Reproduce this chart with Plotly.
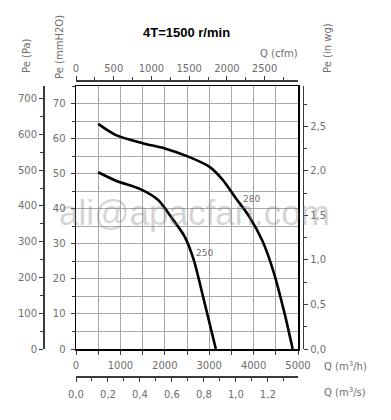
import plotly.graph_objects as go

W, H = 391, 420

# ---- data ----
q_280 = [500, 900, 1500, 2000, 2500, 3000, 3300, 3600, 3900, 4200, 4450, 4700, 4880]
p_280 = [64.2, 61.0, 58.7, 57.2, 55.0, 52.0, 48.3, 43.0, 37.8, 30.8, 22.0, 10.0, 0.0]
q_250 = [500, 900, 1450, 1850, 2150, 2450, 2650, 2870, 3150]
p_250 = [50.4, 48.0, 45.6, 42.5, 37.5, 32.0, 25.5, 14.5, 0.0]
curve_names = ["280", "250"]

q_max_m3h = 5000
p_max_mm = 75
CFM_PER_M3H = 1 / 1.699
PA_PER_MM = 9.80665
INWG_PER_MM = 1 / 25.4
M3S_PER_M3H = 1 / 3600


def px(x):
    return x / W


def py(y):
    return 1 - y / H


GRAY = "#6e6e6e"
FONT = dict(family="DejaVu Sans", size=10, color=GRAY)

fig = go.Figure()
fig.add_trace(go.Scatter(x=q_280, y=p_280, mode="lines", line=dict(color="black", width=2.6, shape="spline", smoothing=0.8),
                         hoverinfo="skip", name=curve_names[0]))
fig.add_trace(go.Scatter(x=q_250, y=p_250, mode="lines", line=dict(color="black", width=2.6, shape="spline", smoothing=0.8),
                         hoverinfo="skip", name=curve_names[1]))

# invisible helper traces so secondary axes are drawn
inv = dict(mode="markers", marker=dict(opacity=0), hoverinfo="skip", showlegend=False)
fig.add_trace(go.Scatter(x=[0], y=[0], xaxis="x2", yaxis="y", **inv))
fig.add_trace(go.Scatter(x=[0], y=[0], xaxis="x3", yaxis="y", **inv))
fig.add_trace(go.Scatter(x=[0], y=[0], xaxis="x", yaxis="y2", **inv))
fig.add_trace(go.Scatter(x=[0], y=[0], xaxis="x", yaxis="y3", **inv))

dom_x = [px(76), px(298)]
dom_y = [py(349), py(86)]
GRID = "#a8a8a8"
AXC = "#3a3a3a"

common = dict(zeroline=False, fixedrange=True, automargin=False, tickfont=FONT)

fig.update_layout(
    width=W, height=H,
    margin=dict(l=0, r=0, t=0, b=0, autoexpand=False),
    paper_bgcolor="white", plot_bgcolor="white",
    showlegend=False,
    separators=",.",
    font=FONT,
    xaxis=dict(domain=dom_x, range=[0, q_max_m3h], dtick=1000, tick0=0,
               showgrid=True, gridcolor=GRID, gridwidth=1,
               showline=True, linecolor="black", linewidth=1.5, mirror=True,
               ticks="outside", ticklen=4, tickcolor=AXC, tickwidth=1, ticklabelstandoff=2,
               minor=dict(dtick=500, showgrid=True, gridcolor=GRID, gridwidth=1, ticks="outside", ticklen=4, tickcolor=AXC),
               **common),
    yaxis=dict(domain=dom_y, range=[0, p_max_mm], dtick=10, tick0=0,
               showgrid=True, gridcolor=GRID, gridwidth=1,
               showline=True, linecolor="black", linewidth=1.5, mirror=True,
               ticks="outside", ticklen=4, tickcolor=AXC, tickwidth=1, ticklabelstandoff=3,
               minor=dict(dtick=5, showgrid=True, gridcolor=GRID, gridwidth=1, ticks="outside", ticklen=3, tickcolor=AXC),
               **common),
    xaxis2=dict(overlaying="x", side="top", anchor="free", position=py(80),
                range=[0, q_max_m3h * CFM_PER_M3H], dtick=500, tick0=0,
                showgrid=False, showline=True, linecolor=AXC, linewidth=1.5,
                ticks="outside", ticklen=4, tickcolor=AXC,
                minor=dict(dtick=250, ticks="outside", ticklen=3, tickcolor=AXC, showgrid=False),
                **common),
    xaxis3=dict(overlaying="x", side="bottom", anchor="free", position=py(376),
                range=[0, q_max_m3h * M3S_PER_M3H], dtick=0.2, tick0=0, tickformat=".1f",
                showgrid=False, showline=True, linecolor=AXC, linewidth=1.5,
                ticks="outside", ticklen=4, tickcolor=AXC, ticklabelstandoff=4,
                minor=dict(dtick=0.1, ticks="outside", ticklen=3, tickcolor=AXC, showgrid=False),
                **common),
    yaxis2=dict(overlaying="y", side="left", anchor="free", position=px(43),
                range=[0, p_max_mm * PA_PER_MM], dtick=100, tick0=0,
                showgrid=False, showline=True, linecolor=AXC, linewidth=1.5,
                ticks="outside", ticklen=4, tickcolor=AXC,
                minor=dict(dtick=50, ticks="outside", ticklen=3, tickcolor=AXC, showgrid=False),
                **common),
    yaxis3=dict(overlaying="y", side="right", anchor="free", position=px(302.7),
                range=[0, p_max_mm * INWG_PER_MM], dtick=0.5, tick0=0, tickformat=".1f",
                showgrid=False, showline=True, linecolor=AXC, linewidth=1.5,
                ticks="outside", ticklen=4, tickcolor=AXC,
                minor=dict(dtick=0.25, ticks="outside", ticklen=3, tickcolor=AXC, showgrid=False),
                **common),
)

ann = []


def add_text(text, x, y, font, angle=0, xanchor="center"):
    ann.append(dict(text=text, x=px(x), y=py(y), xref="paper", yref="paper", textangle=angle,
                    xanchor=xanchor, yanchor="middle", showarrow=False, font=font))


# title
add_text("<b>4T=1500 r/min</b>", 186, 33, dict(family="Liberation Sans", size=13, color="black"))
# axis titles
add_text("Pe (Pa)", 27, 55, FONT, angle=-90)
add_text("Pe (mmH2O)", 59, 47, FONT, angle=-90)
add_text("Pe (in wg)", 327, 48, FONT, angle=-90)
add_text("Q (cfm)", 279, 54, FONT)
add_text("Q (m<sup>3</sup>/h)", 322, 366, FONT, xanchor="left")
add_text("Q (m<sup>3</sup>/s)", 322, 392, FONT, xanchor="left")
# watermark
add_text("ali@apacfan.com", 194, 212, dict(family="Liberation Sans", size=35, color="rgba(130,130,130,0.35)"))
# curve labels
ann.append(dict(text=curve_names[0], x=3957, y=42.7, xref="x", yref="y", showarrow=False,
                xanchor="center", yanchor="middle", font=dict(family="DejaVu Sans", size=9, color=GRAY)))
ann.append(dict(text=curve_names[1], x=2905, y=27.3, xref="x", yref="y", showarrow=False,
                xanchor="center", yanchor="middle", font=dict(family="DejaVu Sans", size=9, color=GRAY)))
fig.update_layout(annotations=ann)

fig.write_html("out.html", config={"displayModeBar": False, "staticPlot": True},
               post_script="document.body.style.margin='0px';")
